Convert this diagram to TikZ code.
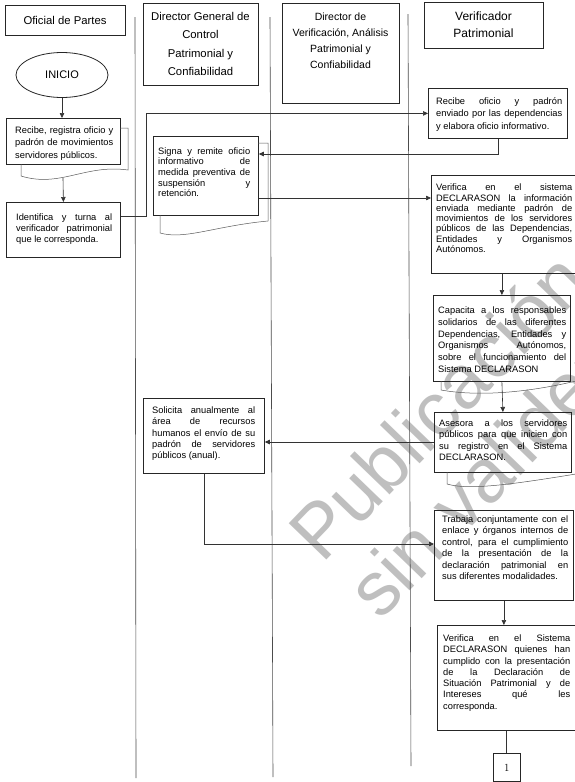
\documentclass[tikz,border=0pt]{standalone}
\usepackage{fontspec}
\newfontfamily\arial{Liberation Sans}
\usetikzlibrary{arrows.meta, shapes.geometric}
\hyphenpenalty=10000
\tolerance=10000

\tikzset{
  lane/.style={draw=black!70, line width=0.6pt},
  box/.style={draw=black!85, line width=0.8pt, inner sep=0pt},
  doc/.style={draw=black!65, line width=0.5pt},
  txt/.style={inner sep=0pt, font=\arial\fontsize{9.3}{11.2}\selectfont},
  hdr/.style={draw=black!85, line width=0.8pt, inner sep=0pt, align=center},
  flow/.style={draw=black!80, line width=0.6pt, -{Triangle[length=5pt,width=4.5pt]}},
  link/.style={draw=black!80, line width=0.6pt},
  wm/.style={inner sep=0pt, text=black!25, font=\arial\fontsize{76}{76}\selectfont}
}

% process box: name, x, y, width, height, left pad, top pad, text width, text
\newcommand{\procnode}[9]{%
  \node[box, minimum width=#4pt, minimum height=#5pt, anchor=north west] (#1) at (#2,#3) {};
  \node[txt, anchor=north west] (#1t) at (#2+#6,#3+#7) {\parbox[t]{#8pt}{\strut #9}};}

\begin{document}
\begin{tikzpicture}[x=1pt,y=-1pt]
\fill[white] (0,0) rectangle (575,782);
\useasboundingbox (0,0) rectangle (575,782);

% watermark
\node[wm, rotate=46, anchor=base west] (wm1) at (322,565) {Publicación};
\node[wm, rotate=46, anchor=base west] (wm2) at (380,622) {sin validez};

% swimlane separators
\draw[lane] (135,17) -- (136,778);
\draw[lane] (270,17) -- (273,777);
\draw[lane] (408,14) -- (411,766);

% lane headers
\node[hdr, minimum width=120pt, minimum height=30pt,
      font=\arial\fontsize{11.3}{13}\selectfont] (hOP) at (65,20) {Oficial de Partes};
\node[hdr, minimum width=115pt, minimum height=82pt,
      font=\arial\fontsize{11.3}{18.5}\selectfont] (hDG) at (200.5,44)
      {Director General de\\Control\\Patrimonial y\\Confiabilidad};
\node[box, minimum width=117pt, minimum height=100pt] (hDV) at (340.5,53) {};
\node[inner sep=0pt, align=center, font=\arial\fontsize{10.5}{15.9}\selectfont] (hDVt) at (340.5,41)
      {Director de\\Verificación, Análisis\\Patrimonial y\\Confiabilidad};
\node[hdr, minimum width=119pt, minimum height=46pt,
      font=\arial\fontsize{12}{16.7}\selectfont] (hVP) at (483.5,25) {Verificador\\Patrimonial};

% start
\node[ellipse, draw=black!85, line width=0.8pt, minimum width=92pt, minimum height=45pt,
      inner sep=0pt, font=\arial\fontsize{11}{13}\selectfont] (ini) at (62,75) {INICIO};

% process steps
\procnode{b1}{6}{118}{114}{46}{9}{7.7}{98}{\fontsize{9.3}{12.2}\selectfont
  Recibe, registra oficio y\linebreak padrón de movimientos\linebreak servidores públicos.}
\procnode{b2}{6}{202}{114}{55}{10}{10.4}{96}{%
  Identifica y turna al\linebreak verificador patrimonial\linebreak que le corresponda.}
\procnode{b3}{428}{88}{139}{50}{8}{8.4}{126}{\fontsize{9.3}{12.5}\selectfont
  Recibe oficio y padrón\linebreak enviado por las dependencias\linebreak y elabora oficio informativo.}
\procnode{b4}{153}{136}{105}{79}{5}{10.2}{92}{\fontsize{9.3}{10.6}\selectfont
  Signa y remite oficio\linebreak informativo de\linebreak medida preventiva de\linebreak suspensión y\linebreak retención.}
\procnode{b5}{431}{175}{145}{98}{5}{7.7}{136}{\fontsize{9.3}{10.3}\selectfont
  Verifica en el sistema\linebreak DECLARASON la información\linebreak enviada mediante padrón de\linebreak movimientos de los servidores\linebreak públicos de las Dependencias,\linebreak Entidades y Organismos\linebreak Autónomos.}
\procnode{b6}{433}{295}{137}{86}{5}{10.5}{128}{\fontsize{9.3}{11.8}\selectfont
  Capacita a los responsables\linebreak solidarios de las diferentes\linebreak Dependencias, Entidades y\linebreak Organismos Autónomos,\linebreak sobre el funcionamiento del\linebreak Sistema DECLARASON}
\procnode{b7}{434}{412}{137}{60}{5}{6}{128}{\fontsize{9.3}{11.5}\selectfont
  Asesora a los servidores\linebreak públicos para que inicien con\linebreak su registro en el Sistema\linebreak DECLARASON.}
\procnode{b8}{143}{398}{121}{75}{9}{7.5}{103}{\fontsize{9.3}{11.25}\selectfont
  Solicita anualmente al\linebreak área de recursos\linebreak humanos el envío de su\linebreak padrón de servidores\linebreak públicos (anual).}
\procnode{b9}{434}{510}{139}{90}{8}{4.5}{126}{\fontsize{9.3}{11.4}\selectfont
  Trabaja conjuntamente con el\linebreak enlace y órganos internos de\linebreak control, para el cumplimiento\linebreak de la presentación de la\linebreak declaración patrimonial en\linebreak sus diferentes modalidades.}
\procnode{b10}{437}{625}{138}{105}{6}{8.4}{127}{\fontsize{9.3}{11.3}\selectfont
  Verifica en el Sistema\linebreak DECLARASON quienes han\linebreak cumplido con la presentación\linebreak de la Declaración de\linebreak Situación Patrimonial y de\linebreak Intereses qué les\linebreak corresponda.}

% off-page connector
\node[box, minimum width=27pt, minimum height=28pt, font=\fontsize{11}{13}\selectfont,
      anchor=north west] (c1) at (493,753) {1};

% document outlines behind some steps
\draw[doc] (120,128) -- (128,128) -- (128,170) .. controls (85,164) and (60,188) .. (21,176) -- (21,164);
\draw[doc] (258,143) -- (268,143) -- (268,221) .. controls (215,226) and (185,240) .. (160,233) -- (160,215);
\draw[doc] (441,381) -- (441,390) .. controls (480,397) and (530,392) .. (576,381);
\draw[doc] (447,472) -- (447,484) .. controls (470,491) and (520,483) .. (576,474);
\coordinate (b1w) at (63,178);

% connectors
\draw[flow] (ini.south) -- (ini.south |- b1.north);
\draw[flow] (b1w) -- (b2.north);
\draw[flow] ([yshift=-14pt]b2.north east) -- ++(25,0) |- (b3.west);
\draw[flow] (b3.south) |- ([yshift=-18pt]b4.north east);
\draw[flow] ([yshift=-62pt]b4.north east) -- ([yshift=-62pt]b4.north east -| b5.west);
\draw[flow] (b5.south -| b6.north) -- (b6.north);
\draw[flow] (b6.south) -- (b7.north);
\draw[flow] ([yshift=-30pt]b7.north west) -- ([yshift=-30pt]b7.north west -| b8.east);
\draw[flow] (b8.south) |- ([yshift=-34pt]b9.north west);
\draw[flow] (b9.south) -- (b9.south |- b10.north);
\draw[link] (b10.south) -- (b10.south |- c1.north);
\end{tikzpicture}
\end{document}
